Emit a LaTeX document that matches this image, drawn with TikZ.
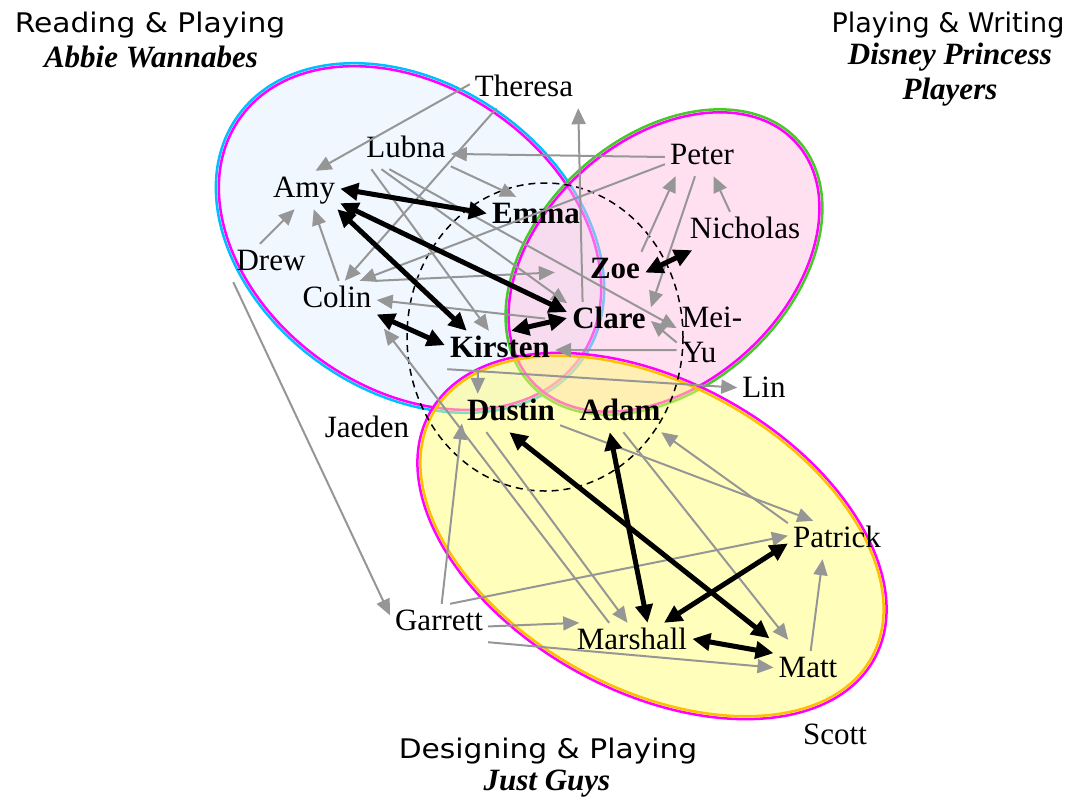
\documentclass[tikz,border=0pt]{standalone}
\usepackage{fontspec}
\setmainfont{Liberation Serif}
\newfontfamily\titlefont{DejaVu Sans}
\newfontfamily\widetitlefont[FakeStretch=1.1]{DejaVu Sans}
\usetikzlibrary{arrows.meta}
\definecolor{readfill}{RGB}{225,239,255}
\definecolor{writefill}{RGB}{255,193,225}
\definecolor{designfill}{RGB}{255,255,119}
\definecolor{ringcyan}{RGB}{0,190,255}
\definecolor{ringmagenta}{RGB}{255,0,255}
\definecolor{ringgreen}{RGB}{70,200,40}
\definecolor{ringorange}{RGB}{255,190,0}
\definecolor{linkgray}{RGB}{150,150,150}
\newcommand{\kidfont}{\fontsize{31}{35}\selectfont}

\begin{document}
\begin{tikzpicture}[x=1pt,y=-1pt,
  kid/.style={font=\kidfont,inner sep=5pt,text height=21pt,text depth=7pt,anchor=base},
  core/.style={kid,font=\kidfont\bfseries},
  ring/.style={line width=2.5pt},
  cluster/.style={fill opacity=0.5},
  hub/.style={draw=black,line width=1.5pt,dash pattern=on 7pt off 5pt},
  grouptitle/.style={font=\titlefont\fontsize{27}{30}\selectfont,anchor=base},
  widetitle/.style={grouptitle,font=\widetitlefont\fontsize{27}{30}\selectfont},
  groupname/.style={font=\kidfont\bfseries\itshape,anchor=base},
  link/.style={draw=linkgray,line width=2pt,-{Triangle[length=16pt,width=14pt]}},
  tie/.style={line width=5pt,{Triangle[length=18pt,width=17pt]}-{Triangle[length=18pt,width=17pt]}},
]
\useasboundingbox (0,0) rectangle (1076,801);

% Group ellipses
\coordinate (readc) at (410,238);
\coordinate (writec) at (664,262);
\coordinate (designc) at (652,536);
\begin{scope}[rotate around={-35:(readc)}]
  \fill[readfill,cluster] (readc) ellipse [x radius=211,y radius=154];
  \draw[ringcyan,ring] (readc) ellipse [x radius=211,y radius=154];
  \draw[ringmagenta,ring] (readc) ellipse [x radius=208,y radius=151];
\end{scope}
\begin{scope}[rotate around={42:(writec)}]
  \fill[writefill,cluster] (writec) ellipse [x radius=181,y radius=125];
  \draw[ringgreen,ring] (writec) ellipse [x radius=181,y radius=125];
  \draw[ringmagenta,ring] (writec) ellipse [x radius=178,y radius=122];
\end{scope}
\begin{scope}[rotate around={-29:(designc)}]
  \fill[designfill,cluster] (designc) ellipse [x radius=254,y radius=155];
  \draw[ringmagenta,ring] (designc) ellipse [x radius=254,y radius=155];
  \draw[ringorange,ring] (designc) ellipse [x radius=251,y radius=152];
\end{scope}
\draw[hub] (545,337) ellipse [x radius=138,y radius=154];

% Group titles
\node[widetitle] (readtitle) at (150,32) {Reading \& Playing};
\node[groupname] (readname) at (151,67) {Abbie Wannabes};
\node[grouptitle] (writetitle) at (948,32) {Playing \& Writing};
\node[font=\kidfont\bfseries\itshape,align=center] (writename) at (950,75) {Disney Princess\\Players};
\node[widetitle] (designtitle) at (548,758) {Designing \& Playing};
\node[groupname] (designname) at (547,790) {Just Guys};

% Children
\node[kid]  (theresa)  at (524,96)  {Theresa};
\node[kid]  (lubna)    at (406,157) {Lubna};
\node[kid]  (peter)    at (702,164) {Peter};
\node[kid]  (amy)      at (304,197) {Amy};
\node[core] (emma)     at (536,223) {Emma};
\node[kid]  (nicholas) at (745,238) {Nicholas};
\node[kid]  (drew)     at (271,270) {Drew};
\node[core] (zoe)      at (615,278) {Zoe};
\node[kid]  (colin)    at (337,307) {Colin};
\node[core] (clare)    at (609,328) {Clare};
\node[font=\kidfont,inner sep=5pt,align=left] (meiyu) at (712,335) {Mei-\\Yu};
\node[core] (kirsten)  at (500,357) {Kirsten};
\node[kid]  (lin)      at (764,397) {Lin};
\node[kid]  (jaeden)   at (367,437) {Jaeden};
\node[core] (dustin)   at (511,420) {Dustin};
\node[core] (adam)     at (620,420) {Adam};
\node[kid]  (patrick)  at (837,547) {Patrick};
\node[kid]  (garrett)  at (439,630) {Garrett};
\node[kid]  (marshall) at (632,649) {Marshall};
\node[kid]  (matt)     at (808,677) {Matt};
\node[kid]  (scott)    at (835,744) {Scott};

% One-way choices
\draw[link] (theresa.175) -- (amy.59);
\draw[link] (theresa.215) -- (colin.68);
\draw[link] (clare.144) -- (theresa.south east);
\draw[link] (peter.180) -- (lubna.-5);
\draw[link] (peter.191) -- (colin.40);
\draw[link] (peter.250) -- (clare.18);
\draw[link] (lubna.-20) -- (emma.136);
\draw[link] (lubna.209) -- (kirsten.120);
\draw[link] (lubna.218) -- (clare.157);
\draw[link] (lubna.229) -- (meiyu.169);
\draw[link] (drew.120) -- (amy.244);
\draw[link] (colin.85) -- (amy.-63);
\draw[link,shorten >=30pt] (colin.north east) -- (zoe.west);
\draw[link,shorten <=22pt] (clare.west) -- (colin.east);
\draw[link,shorten >=12pt] (marshall.140) -- (colin.south east);
\draw[link] (kirsten.221) -- (dustin.150);
\draw[link] (kirsten.200) -- (lin.175);
\draw[link] (meiyu.203) -- (kirsten.east);
\draw[link] (meiyu.192) -- (clare.east);
\draw[link] (zoe.36) -- (peter.216);
\draw[link] (nicholas.128) -- (peter.-59);
\draw[link] (drew.207) -- (garrett.171);
\draw[link] (garrett.82) -- (dustin.192);
\draw[link] (garrett.60) -- (patrick.175);
\draw[link] (garrett.-4) -- (marshall.160);
\draw[link] (garrett.south east) -- (matt.176);
\draw[link] (dustin.218) -- (marshall.103);
\draw[link] (dustin.-14) -- (patrick.141);
\draw[link] (patrick.161) -- (adam.-25);
\draw[link,shorten >=14pt] (adam.-80) -- (matt.120);
\draw[link] (matt.82) -- (patrick.233);

% Mutual choices
\draw[tie] (amy.2) -- (emma.177);
\draw[tie] (amy.-20) -- (clare.168);
\draw[tie] (amy.-30) -- (kirsten.150);
\draw[tie] (colin.-20) -- (kirsten.175);
\draw[tie] (kirsten.60) -- (clare.176);
\draw[tie] (zoe.-3) -- (nicholas.200);
\draw[tie,shorten >=20pt] (dustin.-95) -- (matt.140);
\draw[tie] (adam.242) -- (marshall.51);
\draw[tie] (marshall.31) -- (patrick.184);
\draw[tie] (marshall.3) -- (matt.154);
\end{tikzpicture}
\end{document}
